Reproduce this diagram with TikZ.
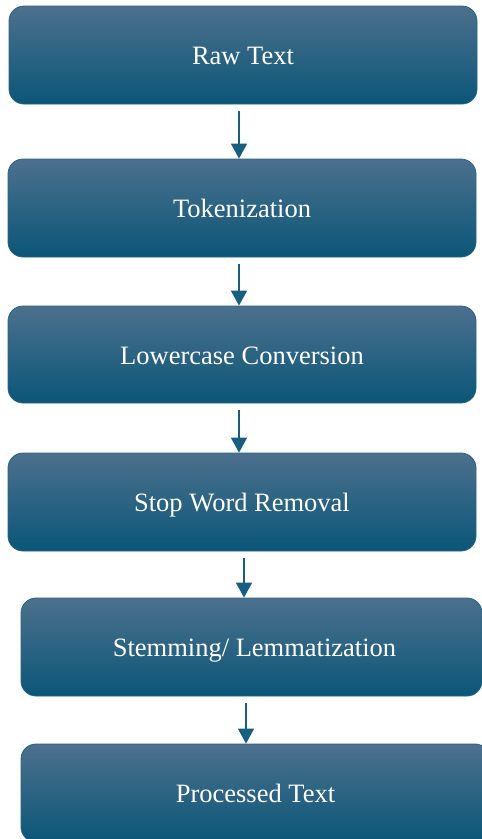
\documentclass[tikz,border=0pt]{standalone}
\usepackage{fontspec}
\setmainfont{Liberation Serif}
\usetikzlibrary{arrows.meta}
\definecolor{topc}{RGB}{76,112,141}
\definecolor{midc}{RGB}{16,94,131}
\definecolor{botc}{RGB}{11,86,120}
\definecolor{edgec}{RGB}{40,100,135}
\definecolor{arrc}{RGB}{24,94,128}
\tikzset{
  procbox/.style={rectangle, rounded corners=15pt, draw=edgec, line width=0.8pt,
    top color=topc, middle color=midc, bottom color=botc,
    text=white, inner sep=0pt, minimum height=98pt,
    text height=19pt, text depth=0pt,
    font=\fontsize{26.5pt}{30pt}\selectfont},
  arr/.style={draw=arrc, line width=1.6pt, -{Triangle[width=16pt,length=15pt]}}
}
\begin{document}
\begin{tikzpicture}[x=1pt,y=-1pt]
\clip (0,0) rectangle (482,839);
\fill[white] (0,0) rectangle (482,839);
\node[procbox, minimum width=468pt] (raw) at (243,55) {Raw Text};
\node[procbox, minimum width=468pt] (tok) at (242,208) {Tokenization};
\node[procbox, minimum width=468pt, minimum height=97pt] (low) at (242,354.5) {Lowercase Conversion};
\node[procbox, minimum width=468pt] (stop) at (242,502) {Stop Word Removal};
\node[procbox, minimum width=461pt] (stem) at (251.5,647) {\hspace*{6pt}Stemming/ Lemmatization};
\node[procbox, minimum width=469pt] (proc) at (255.5,793) {Processed Text};
\draw[arr] ([yshift=-7pt]raw.south -| 239,0) -- (tok.north -| 239,0);
\draw[arr] ([yshift=-7pt]tok.south -| 239,0) -- (low.north -| 239,0);
\draw[arr] ([yshift=-7pt]low.south -| 239,0) -- (stop.north -| 239,0);
\draw[arr] ([yshift=-7pt]stop.south -| 244,0) -- (stem.north -| 244,0);
\draw[arr] ([yshift=-7pt]stem.south -| 246,0) -- (proc.north -| 246,0);
\end{tikzpicture}
\end{document}
